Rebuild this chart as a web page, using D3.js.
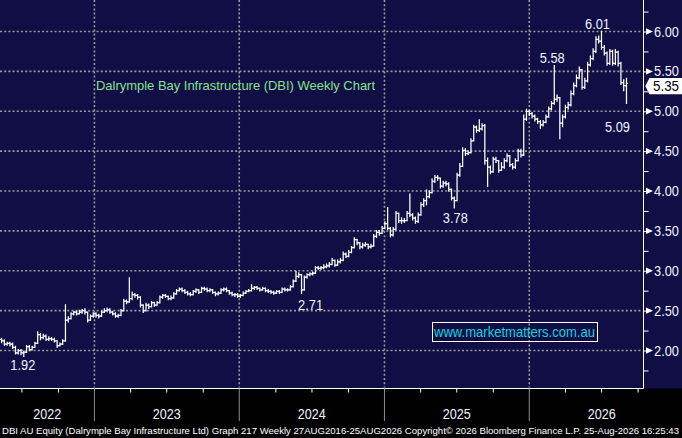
<!DOCTYPE html>
<html><head><meta charset="utf-8">
<script src="https://cdn.jsdelivr.net/npm/d3@7"></script>
<style>html,body{margin:0;padding:0;background:#000;overflow:hidden}text{font-family:"Liberation Sans",Arial,sans-serif}</style>
</head><body>
<svg id="c" width="682" height="438"></svg>
<script>
// ---------------- DATA ----------------
const firstWeek = "2022-05-12";
const firstOpen = 2.14;
const closes = [
2.12,2.08,2.09,2.08,2.04,1.97,2.00,1.97,1.98,2.05,2.01,2.04,2.09,2.20,2.16,2.18,2.14,2.15,2.14,2.12,2.06,2.08,2.12,
2.38,2.40,2.46,2.48,2.46,2.48,2.50,2.48,2.38,2.43,2.46,2.44,2.43,2.48,2.50,2.51,2.48,2.46,2.43,2.44,2.50,2.62,2.61,
2.65,2.70,2.69,2.67,2.57,2.50,2.57,2.55,2.60,2.57,2.60,2.67,2.69,2.68,2.65,2.66,2.71,2.75,2.77,2.75,2.73,2.71,
2.70,2.74,2.76,2.73,2.78,2.77,2.75,2.76,2.73,2.71,2.72,2.76,2.77,2.75,2.72,2.70,2.70,2.68,2.69,2.72,2.74,2.75,
2.78,2.79,2.78,2.76,2.78,2.75,2.74,2.73,2.72,2.74,2.73,2.77,2.76,2.76,2.80,2.87,2.93,2.95,2.76,2.92,2.95,2.96,2.97,3.04,3.03,
3.04,3.05,3.06,3.08,3.13,3.07,3.11,3.13,3.21,3.18,3.23,3.29,3.39,3.35,3.30,3.32,3.33,3.30,3.31,3.43,3.48,3.47,3.53,3.59,3.53,3.45,3.52,
3.72,3.63,3.63,3.63,3.72,3.70,3.66,3.62,3.70,3.83,3.88,3.93,3.98,4.12,4.17,4.16,4.06,4.10,4.09,4.02,3.91,3.88,4.20,4.31,
4.51,4.47,4.48,4.63,4.80,4.76,4.78,4.82,4.38,4.30,4.24,4.40,4.38,4.26,4.30,4.38,4.44,4.33,4.30,4.38,4.50,4.45,
4.90,5.00,4.97,4.94,4.90,4.87,4.83,4.86,4.93,5.03,5.10,5.15,5.17,4.85,4.93,5.05,5.08,5.22,
5.32,5.42,5.52,5.30,5.38,5.58,5.66,5.75,5.90,5.88,5.80,5.73,5.60,5.75,5.60,5.74,5.60,5.36,5.32,5.35
];
const highs = [
2.16,2.14,2.11,2.11,2.10,2.06,2.02,2.02,2.00,2.07,
2.07,2.06,2.11,2.24,2.22,2.21,2.20,2.18,2.17,2.16,
2.13,2.10,2.14,2.58,2.43,2.48,2.50,2.50,2.51,2.52,
2.53,2.49,2.45,2.48,2.48,2.46,2.50,2.53,2.54,2.53,
2.50,2.48,2.46,2.52,2.65,2.64,2.92,2.74,2.72,2.71,
2.68,2.58,2.60,2.59,2.62,2.61,2.62,2.69,2.71,2.71,
2.69,2.69,2.73,2.77,2.79,2.79,2.77,2.75,2.73,2.76,
2.78,2.77,2.80,2.80,2.79,2.78,2.77,2.74,2.74,2.78,
2.79,2.79,2.76,2.74,2.72,2.72,2.71,2.74,2.76,2.77,
2.83,2.81,2.81,2.79,2.80,2.79,2.77,2.76,2.75,2.76,
2.76,2.79,2.79,2.78,2.82,2.89,3.00,2.98,2.96,2.94,
2.97,2.98,2.99,3.06,3.06,3.06,3.08,3.09,3.11,3.16,
3.14,3.14,3.16,3.24,3.23,3.26,3.31,3.42,3.40,3.36,
3.35,3.36,3.34,3.34,3.46,3.51,3.51,3.56,3.62,3.80,
3.55,3.55,3.75,3.73,3.67,3.66,3.75,3.97,3.72,3.68,
3.73,3.86,3.91,4.02,4.01,4.16,4.20,4.20,4.17,4.13,
4.13,4.11,4.03,3.93,4.23,4.35,4.55,4.54,4.51,4.66,
4.83,4.82,4.90,4.85,4.84,4.42,4.32,4.43,4.43,4.39,
4.36,4.41,4.47,4.45,4.35,4.41,4.53,4.53,4.96,5.03,
5.02,4.99,4.96,4.92,4.89,4.89,4.96,5.06,5.13,5.58,
5.21,5.18,4.96,5.08,5.12,5.26,5.36,5.46,5.56,5.53,
5.42,5.62,5.70,5.79,5.94,5.95,6.01,5.83,5.75,5.78,
5.77,5.78,5.76,5.62,5.40,5.42
];
const lows = [
2.09,2.06,2.06,2.05,2.02,1.95,1.95,1.94,1.92,1.97,
1.99,2.00,2.03,2.08,2.13,2.14,2.12,2.12,2.12,2.10,
2.03,2.05,2.07,2.11,2.35,2.39,2.44,2.44,2.45,2.46,
2.45,2.35,2.37,2.41,2.41,2.40,2.42,2.47,2.48,2.46,
2.44,2.41,2.41,2.43,2.49,2.58,2.60,2.63,2.66,2.64,
2.54,2.47,2.49,2.52,2.54,2.55,2.56,2.59,2.65,2.66,
2.63,2.63,2.65,2.70,2.74,2.73,2.71,2.69,2.68,2.69,
2.72,2.71,2.72,2.75,2.73,2.73,2.71,2.68,2.69,2.71,
2.74,2.73,2.70,2.68,2.67,2.66,2.66,2.68,2.71,2.73,
2.74,2.76,2.76,2.74,2.75,2.73,2.72,2.71,2.70,2.71,
2.71,2.72,2.74,2.74,2.75,2.79,2.86,2.91,2.71,2.75,
2.90,2.93,2.94,2.96,3.01,3.01,3.02,3.03,3.04,3.07,
3.05,3.06,3.09,3.12,3.16,3.17,3.22,3.28,3.32,3.27,
3.28,3.30,3.27,3.28,3.30,3.41,3.44,3.46,3.52,3.51,
3.42,3.43,3.51,3.60,3.59,3.60,3.62,3.67,3.63,3.59,
3.60,3.69,3.80,3.82,3.91,3.97,4.10,4.13,4.03,4.04,
4.06,3.99,3.88,3.78,3.87,4.18,4.30,4.44,4.45,4.47,
4.62,4.73,4.74,4.76,4.33,4.05,4.21,4.23,4.35,4.23,
4.25,4.28,4.36,4.30,4.27,4.28,4.37,4.42,4.44,4.88,
4.94,4.91,4.87,4.84,4.78,4.81,4.85,4.92,5.01,5.08,
5.12,4.65,4.80,4.91,5.02,5.06,5.20,5.30,5.40,5.27,
5.28,5.36,5.56,5.64,5.73,5.85,5.77,5.70,5.57,5.58,
5.57,5.58,5.56,5.33,5.25,5.09
];
const yMajorTicks = [2.0,2.5,3.0,3.5,4.0,4.5,5.0,5.5,6.0];
const yMinorTicks = [1.75,2.0,2.25,2.5,2.75,3.0,3.25,3.5,3.75,4.0,4.25,4.5,4.75,5.0,5.25,5.5,5.75,6.0,6.25];
const yearLabels = ["2022","2023","2024","2025","2026"];
const annotIndex = [216,199,225,163,108,8];
const annotType  = ["high","high","low","low","low","low"];
const titleText = "Dalrymple Bay Infrastructure (DBI) Weekly Chart";
const siteText = "www.marketmatters.com.au";
const footerText = "DBI AU Equity (Dalrymple Bay Infrastructure Ltd) Graph 217 Weekly 27AUG2016-25AUG2026  Copyright\u00A9 2026 Bloomberg Finance L.P.  25-Aug-2026 16:25:43";

// ---------------- LAYOUT ----------------
const W = 682, H = 438, PR = 643.5, PB = 388.5;
const NAVY = "#100e45", GRID = "#9a9a9a", LBL = "#eef3ff";
const annotOffset = [[-4,-6.4],[-2,-7.3],[-9,22.6],[1,9],[9,11],[-1,8]];

const svg = d3.select("#c");
const x = d3.scaleUtc().domain([Date.UTC(2022,0,1), Date.UTC(2027,0,1)]).range([-50.4, 674.1]);
const y = d3.scaleLinear().domain([2,6]).range([350.5,31.5]);

const t0 = new Date(firstWeek + "T00:00:00Z");
const bars = closes.map((c,i)=>({
  date: d3.utcDay.offset(t0, 7*i),
  open: i===0 ? firstOpen : closes[i-1],
  high: highs[i], low: lows[i], close: c
}));

svg.append("rect").attr("x",0).attr("y",0).attr("width",W).attr("height",PB).attr("fill",NAVY);

svg.append("defs").append("clipPath").attr("id","pc")
  .append("rect").attr("x",0).attr("y",0).attr("width",PR).attr("height",PB);

// gridlines
const grid = svg.append("g").attr("stroke",GRID).attr("stroke-width",1.6).attr("stroke-dasharray","2,2.2");
grid.selectAll("line.h").data(yMajorTicks).join("line")
  .attr("x1",0).attr("x2",PR-1).attr("y1",d=>y(d)).attr("y2",d=>y(d));
const yearStarts = d3.utcYear.range(Date.UTC(2022,0,1), Date.UTC(2027,0,2));
const yearBounds = yearStarts.filter(d=>x(d)>0 && x(d)<PR);
grid.selectAll("line.v").data(yearBounds).join("line")
  .attr("x1",d=>x(d)).attr("x2",d=>x(d)).attr("y1",0).attr("y2",PB-1);

// title & site box
svg.append("text").attr("x",96).attr("y",89.5).attr("font-size",13).attr("fill","#88e08c")
  .attr("textLength",279).attr("lengthAdjust","spacingAndGlyphs").text(titleText);
svg.append("rect").attr("x",432.5).attr("y",322.5).attr("width",165).attr("height",19)
  .attr("fill","none").attr("stroke","#fff").attr("stroke-width",1);
svg.append("text").attr("x",434).attr("y",337).attr("font-size",15).attr("fill","#14d2de")
  .attr("textLength",161).attr("lengthAdjust","spacingAndGlyphs").text(siteText);

// OHLC bars
const tk = 1.6;
svg.append("g").attr("clip-path","url(#pc)")
  .selectAll("path").data(bars).join("path")
  .attr("fill","none").attr("stroke","#fff").attr("stroke-width",1.25)
  .attr("d",d=>{
    const xi = x(d.date);
    return `M${xi},${y(d.high)}V${y(d.low)}M${xi-tk},${y(d.open)}H${xi}M${xi},${y(d.close)}H${xi+tk}`;
  });

// annotations
svg.append("g").selectAll("text").data(annotIndex).join("text")
  .attr("x",(d,k)=>x(bars[d].date)+annotOffset[k][0])
  .attr("y",(d,k)=>y(annotType[k]==="high"?bars[d].high:bars[d].low)+annotOffset[k][1])
  .attr("dy","0.36em").attr("text-anchor","middle").attr("font-size",14).attr("fill",LBL)
  .attr("textLength",25).attr("lengthAdjust","spacingAndGlyphs")
  .text((d,k)=>(annotType[k]==="high"?bars[d].high:bars[d].low).toFixed(2));

// borders
svg.append("line").attr("x1",PR).attr("x2",PR).attr("y1",0).attr("y2",PB).attr("stroke","#fff").attr("stroke-width",1);
svg.append("line").attr("x1",0).attr("x2",PR).attr("y1",PB).attr("y2",PB).attr("stroke","#fff").attr("stroke-width",1);

// right axis
const yAxis = svg.append("g").attr("transform",`translate(${PR},0)`)
  .call(d3.axisRight(y).tickValues(yMinorTicks).tickSize(5).tickFormat(""));
yAxis.select(".domain").remove();
yAxis.selectAll("line").attr("stroke","#fff");
const maj = svg.append("g").selectAll("g").data(yMajorTicks).join("g")
  .attr("transform",d=>`translate(0,${y(d)})`);
maj.append("path").attr("d","M646,-3.2L653,0L646,3.2Z").attr("fill","#fff");
maj.append("text").attr("x",654).attr("dy","0.36em").attr("font-size",14).attr("fill",LBL)
  .attr("textLength",25).attr("lengthAdjust","spacingAndGlyphs").text(d=>d.toFixed(2));

// last price tag
const last = bars[bars.length-1].close;
const tg = svg.append("g").attr("transform",`translate(0,${y(last)+2.6})`);
tg.append("path").attr("d","M645.3,0L649.5,-8H682V8.3H649.5Z").attr("fill","#fff");
tg.append("text").attr("x",653).attr("dy","0.36em").attr("font-size",14).attr("fill","#000")
  .attr("textLength",26).attr("lengthAdjust","spacingAndGlyphs").text(last.toFixed(2));

// bottom axis
const qTicks = d3.utcMonth.every(3).range(Date.UTC(2022,0,1), Date.UTC(2027,0,1))
  .filter(d=>d.getUTCMonth()!==0 && x(d)>0 && x(d)<=PR);
const xAxis = svg.append("g").attr("transform",`translate(0,${PB})`)
  .call(d3.axisBottom(x).tickValues(qTicks).tickSize(4).tickFormat(""));
xAxis.select(".domain").remove();
xAxis.selectAll("line").attr("stroke","#fff");
svg.append("g").selectAll("line").data(yearBounds).join("line")
  .attr("x1",d=>x(d)).attr("x2",d=>x(d)).attr("y1",PB).attr("y2",421)
  .attr("stroke","#8c8c8c").attr("stroke-width",1);
svg.append("g").selectAll("text").data(yearLabels).join("text")
  .attr("x",d=>{const a=Date.UTC(+d,0,1), b=Date.UTC(+d+1,0,1); return (Math.max(0,x(a))+x(b))/2;})
  .attr("y",418.7).attr("text-anchor","middle").attr("font-size",14).attr("fill",LBL)
  .attr("textLength",28).attr("lengthAdjust","spacingAndGlyphs").text(d=>d);

// footer
svg.append("text").attr("x",2).attr("y",433.8).attr("font-size",9.6).attr("fill","#fff")
  .attr("textLength",677).attr("lengthAdjust","spacingAndGlyphs").text(footerText);
</script>
</body></html>
